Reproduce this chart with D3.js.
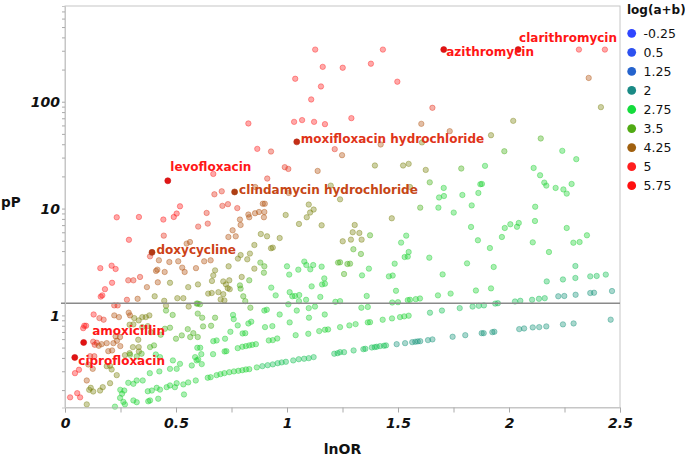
<!DOCTYPE html>
<html><head><meta charset="utf-8">
<script src="https://cdn.jsdelivr.net/npm/d3@7"></script>
<style>body{margin:0;background:#fff}svg{display:block;font-family:'DejaVu Sans',Verdana,sans-serif}</style>
</head><body><svg id="c" width="685" height="462"></svg>
<script>
// ---------- data ----------
const lnOR = [
1.127,1.432,2.315,2.432,
1.161,1.251,1.378,1.037,1.497,1.153,1.109,2.359,2.414,1.655,
1.290,0.826,1.032,1.068,1.122,1.171,1.605,2.019,1.733,1.919,
2.143,1.422,1.608,0.866,0.928,1.215,1.248,1.979,2.240,2.303,
0.990,1.006,1.138,1.396,1.523,1.548,1.625,1.785,1.892,2.111,
2.140,2.159,2.168,2.210,2.245,2.260,2.282,0.668,0.911,0.673,
0.706,1.008,0.857,1.197,1.643,1.706,1.707,1.685,1.790,1.862,
1.871,1.878,1.554,1.239,0.518,
1.832,2.118,2.117,1.981,2.006,2.044,2.036,2.260,1.600,1.682,
1.751,1.472,1.305,1.296,1.326,1.288,1.336,1.299,1.333,1.251,
1.374,1.537,1.514,1.548,1.544,1.530,1.485,1.829,1.860,1.914,
1.968,2.107,2.180,2.290,2.318,2.351,1.641,1.811,1.931,2.299,
1.701,1.459,1.476,1.369,1.338,1.257,1.239,1.272,1.284,2.170,
2.243,2.299,2.366,2.395,2.436,1.491,1.851,1.919,1.359,1.680,
1.737,2.222,2.249,2.300,2.366,2.383,2.464,1.474,1.500,1.544,
1.554,1.580,1.599,1.239,1.335,1.364,
1.239,1.281,1.309,1.364,1.374,1.431,1.473,1.509,1.528,1.548,
1.644,1.698,1.778,1.836,1.864,1.887,1.938,1.950,2.027,2.051,
2.104,2.135,2.161,1.239,1.257,1.300,1.344,1.353,1.382,1.395,
1.404,1.419,1.437,1.446,1.494,1.532,1.564,1.578,1.589,1.600,
1.635,1.655,1.746,1.803,1.877,1.886,1.925,1.934,2.046,2.068,
2.107,2.136,2.168,2.243,2.291,2.458,
0.709,0.734,0.776,0.638,0.643,0.600,0.891,0.900,0.826,0.830,
0.856,0.874,0.898,0.896,0.788,0.791,0.755,0.769,0.736,0.994,
1.054,1.098,1.104,1.120,1.089,1.156,0.882,0.910,0.967,0.853,
0.928,0.936,0.791,0.821,0.833,0.779,0.880,0.898,0.896,0.737,
1.000,1.010,1.051,1.078,1.087,1.118,1.105,1.156,1.230,1.168,
1.158,1.171,1.111,0.929,0.830,0.668,0.662,0.599,0.713,0.725,
0.740,0.733,0.742,0.791,0.645,0.661,0.691,0.701,0.713,0.718,
0.803,0.812,0.949,1.012,1.024,1.036,1.055,1.086,1.054,1.150,
1.006,0.608,0.598,0.835,0.898,0.909,0.967,1.012,1.044,1.098,
1.126,1.099,1.170,1.218,0.598,0.618,0.676,0.658,0.622,0.757,
0.760,0.778,0.826,0.839,0.901,0.934,0.745,0.721,0.683,0.668,
0.800,0.812,0.918,0.936,0.956,1.039,1.096,1.145,1.171,1.185,
0.598,0.609,0.596,0.614,0.600,0.616,0.667,0.719,0.727,0.778,
0.799,0.815,0.830,0.844,0.860,1.213,1.228,0.589,0.643,0.656,
0.683,0.700,0.718,0.740,0.761,0.781,0.799,0.815,0.830,0.864,
0.889,0.913,0.936,0.958,0.976,0.995,1.028,1.053,1.077,1.098,1.120,
0.503,0.490,0.233,0.333,0.443,0.288,0.445,0.383,0.548,0.563,
0.423,0.470,0.510,0.528,0.539,0.416,0.410,0.449,0.159,0.210,
0.228,0.212,0.180,0.161,0.168,0.285,0.308,0.338,0.369,0.418,
0.473,0.327,0.279,0.404,0.506,0.533,0.222,0.237,0.447,0.455,
0.557,0.593,0.590,0.627,0.656,0.676,0.796,0.788,0.853,0.555,
0.129,0.155,0.174,0.222,0.243,0.287,0.293,0.087,0.095,0.082,
0.127,0.143,0.134,0.165,0.188,0.152,0.218,0.195,0.212,0.228,
0.248,0.312,0.332,0.348,0.364,0.380,0.308,0.291,0.348,0.373,
0.387,0.450,0.473,0.485,0.455,0.431,0.330,0.306,0.291,0.332,
0.333,0.249,0.234,0.270,0.113,0.132,0.063,0.045,0.105,0.125,
0.188,0.203,0.210,0.233,0.203,0.098,0.116,0.109,0.127,0.158,
0.170,0.055,0.023,0.068,0.098,0.249,0.257,0.267,0.285,0.308,
0.323,0.350,0.293,0.323,0.345,0.383,0.401,0.409,0.428,0.382,
0.425,0.413,0.428,0.391,0.373,0.495,0.533,0.555,0.308,0.323,
0.375,0.383,0.248,0.263,0.486,0.518,0.473,0.503,0.586,0.593,
0.571,0.526,0.564,0.500,0.420,0.225,0.270,0.458,0.473,0.503,0.536,0.553,0.578
];
const pP = [
307.65,307.65,307.65,307.65,
212,208,227,164,154,139,105,167,89.0,87.7,
70.2,62.6,64.8,67.3,64.8,61.7,62.1,66.2,53.0,48.6,
45.3,39.8,41.6,36.2,34.2,36.0,31.6,34.4,34.7,29.0,
24.4,23.5,22.5,25.3,25.3,26.2,23.0,23.7,25.1,24.0,
20.5,17.5,16.4,15.6,15.1,13.8,17.0,21.1,19.1,13.6,
14.5,14.0,15.9,16.4,17.6,15.6,13.1,12.7,13.4,14.0,
16.9,17.0,15.9,12.2,10.5,
10.7,10.4,7.65,6.58,7.13,7.33,6.75,6.58,10.2,10.2,
9.17,8.11,7.02,6.00,5.91,5.12,5.12,4.16,3.76,4.94,
5.62,5.58,4.80,3.92,3.55,3.52,3.05,6.73,5.05,4.27,
5.42,4.83,3.92,4.79,4.86,5.62,3.47,3.07,2.84,2.90,
2.42,2.32,2.36,2.74,2.37,2.44,3.14,3.03,3.05,2.08,
2.17,2.24,2.32,2.34,2.41,1.70,1.71,1.79,1.52,1.54,
1.60,1.51,1.52,1.56,1.62,1.63,1.69,1.32,1.33,1.39,
1.40,1.42,1.44,1.36,1.18,1.20,
0.777,0.806,0.829,0.860,0.865,0.911,0.937,0.964,0.979,0.994,
1.06,1.11,1.17,1.21,1.23,1.24,1.29,1.30,1.35,1.37,
1.40,1.43,1.45,0.453,0.453,0.470,0.483,0.487,0.501,0.505,
0.509,0.516,0.520,0.524,0.538,0.550,0.562,0.567,0.571,0.574,
0.587,0.596,0.631,0.653,0.682,0.682,0.697,0.703,0.744,0.755,
0.772,0.777,0.789,0.824,0.841,0.912,
10.6,11.0,10.1,9.10,7.23,6.78,11.1,11.1,8.79,8.29,
9.04,9.29,9.29,8.29,7.89,7.02,6.26,5.50,5.42,8.71,
7.18,10.9,9.18,9.79,8.29,6.97,5.78,5.50,5.30,4.56,
4.25,4.31,3.67,3.35,3.79,3.40,3.12,2.88,2.51,2.88,
2.88,2.41,2.68,3.19,2.96,2.96,2.70,2.86,3.12,2.22,
1.95,1.98,1.87,1.82,2.13,2.37,2.10,1.95,2.08,1.95,
2.13,1.80,1.76,1.78,1.60,1.62,1.65,1.41,1.58,1.38,
1.51,1.36,1.54,1.65,1.51,1.52,1.55,1.40,1.36,1.49,
1.27,1.27,1.29,1.18,1.11,1.13,1.02,0.860,1.11,1.17,
1.21,0.952,1.02,1.34,1.04,0.952,0.952,0.800,0.789,1.01,
0.923,0.806,0.841,0.873,0.777,0.794,0.703,0.605,0.583,0.574,
0.678,0.682,0.583,0.587,0.608,0.653,0.673,0.713,0.734,0.739,
0.627,0.498,0.498,0.434,0.387,0.350,0.434,0.460,0.463,0.494,
0.509,0.516,0.524,0.531,0.538,0.438,0.443,0.246,0.261,0.264,
0.276,0.282,0.288,0.294,0.299,0.303,0.307,0.312,0.314,0.326,
0.335,0.342,0.348,0.357,0.363,0.368,0.379,0.389,0.393,0.398,0.407,
8.98,8.34,8.28,8.34,7.89,5.10,5.58,3.57,4.70,4.86,
3.28,3.16,3.21,2.80,2.55,2.68,2.61,2.55,2.77,2.92,
2.72,2.02,1.76,1.50,1.54,2.13,2.13,2.29,1.84,2.04,
2.02,1.43,1.40,1.51,1.45,1.45,1.24,1.24,1.37,1.23,
1.21,1.29,2.77,3.21,3.28,2.64,2.29,1.91,2.74,1.84,
1.02,0.944,0.912,1.00,0.964,1.06,1.00,0.800,0.800,0.760,
0.567,0.555,0.531,0.538,0.550,0.520,0.550,0.463,0.470,0.636,
0.627,0.944,0.898,0.964,0.964,1.00,0.824,0.818,0.777,0.794,
0.697,0.750,0.767,1.01,1.11,0.659,0.592,0.505,0.443,0.505,
0.460,0.516,0.579,0.425,0.415,0.415,0.310,0.288,0.347,0.316,
0.335,0.338,0.312,0.276,0.232,0.246,0.210,0.201,0.194,0.198,
0.213,0.187,0.171,0.171,0.147,0.201,0.185,0.198,0.234,0.229,
0.246,0.246,0.428,0.413,0.438,0.505,0.524,0.431,0.407,0.288,
0.299,0.210,0.202,0.198,0.195,0.213,0.226,0.236,0.160,0.154,
0.157,0.160,0.169,0.155,0.379,0.352,0.316,0.316,0.407,0.379,
0.340,0.650,0.627,0.605,0.166,0.140,0.147,0.213,0.221,0.232,0.182,0.744,0.682
];
const logAB = [
5.2,5.2,5.2,5.2,
5.2,5.2,5.2,5.2,5.2,5.2,5.2,4.4,3.9,4.8,
5.2,5.2,5.2,5.2,5.2,5.2,4.4,3.9,4.4,3.9,
3.4,4.4,3.9,5.2,4.8,4.8,4.4,3.4,2.9,2.9,
4.8,4.8,4.4,3.9,3.9,3.9,3.9,3.4,2.9,2.9,
2.9,2.9,2.9,2.9,2.9,2.9,2.9,5.2,4.8,4.8,
4.8,4.4,4.4,3.9,3.4,2.9,2.9,2.9,2.9,2.9,
2.9,2.9,3.9,3.9,5.2,
2.9,2.9,2.9,2.9,2.9,2.9,2.9,2.9,3.4,2.9,
2.9,3.9,3.9,3.9,3.9,3.9,3.9,3.4,3.4,3.9,
3.4,2.9,2.9,2.9,2.9,2.9,2.9,2.9,2.9,2.9,
2.9,2.9,2.9,2.9,2.9,2.9,2.9,2.9,2.9,2.5,
2.9,2.9,2.9,2.9,2.9,3.4,3.4,3.4,3.4,2.5,
2.5,2.5,2.5,2.5,2.5,2.9,2.9,2.9,2.9,2.9,
2.9,2.1,2.1,2.1,2.1,2.1,2.1,2.9,2.9,2.9,
2.9,2.9,2.9,2.9,2.9,2.9,
2.9,2.9,2.9,2.9,2.9,2.9,2.9,2.9,2.9,2.9,
2.5,2.5,2.5,2.5,2.5,2.5,2.5,2.5,2.5,2.5,
2.5,2.5,2.5,2.5,2.5,2.5,2.5,2.5,2.5,2.5,
2.5,2.5,2.5,2.5,2.1,2.1,2.1,2.1,2.1,2.1,
2.1,2.1,2.1,2.1,2.1,2.1,2.1,2.1,2.1,2.1,
2.1,2.1,2.1,2.1,2.1,2.1,
4.8,4.8,4.8,4.8,4.8,4.8,4.4,4.4,4.4,4.4,
4.4,4.4,4.4,4.4,4.4,4.4,4.4,4.4,4.4,3.9,
3.9,3.9,3.9,3.9,3.9,3.9,3.9,3.9,3.9,3.9,
3.9,3.9,3.9,3.9,3.9,3.9,3.4,3.4,3.4,3.9,
2.9,2.9,2.9,2.9,2.9,2.9,2.9,2.9,3.4,2.9,
2.9,2.9,2.9,2.9,3.4,3.9,3.9,3.9,3.9,3.9,
3.9,3.9,3.9,3.4,3.9,3.9,3.9,3.9,3.9,3.9,
3.4,3.4,2.9,2.9,2.9,2.9,2.9,2.9,2.9,2.9,
2.9,3.4,3.4,3.4,2.9,2.9,2.9,2.9,2.9,2.9,
2.9,2.9,2.9,2.9,3.4,3.4,3.4,3.4,3.4,2.9,
2.9,2.9,2.9,2.9,2.9,2.9,2.9,2.9,2.9,2.9,
2.9,2.9,2.9,2.9,2.9,2.9,2.9,2.9,2.9,2.9,
3.4,2.9,2.9,2.9,2.9,2.9,2.9,2.9,2.9,2.9,
2.9,2.9,2.9,2.9,2.9,2.5,2.5,2.9,2.9,2.9,
2.9,2.9,2.9,2.9,2.9,2.9,2.9,2.9,2.9,2.9,
2.5,2.5,2.5,2.5,2.5,2.5,2.5,2.5,2.5,2.5,2.5,
5.2,5.2,5.2,5.2,5.2,5.2,4.8,4.8,4.4,4.4,
4.4,4.4,4.4,4.4,4.4,4.4,4.4,4.4,5.2,5.2,
5.2,5.2,5.2,5.2,5.2,4.8,4.8,4.8,4.4,4.4,
3.9,4.4,4.8,3.9,3.9,3.9,4.8,4.8,3.9,3.9,
3.9,3.4,4.4,4.4,4.4,3.9,3.9,3.4,3.9,3.9,
5.2,4.8,4.8,4.4,4.4,4.4,4.4,5.2,5.2,5.2,
4.8,4.8,4.8,4.4,4.4,4.4,4.4,4.4,4.4,4.4,
4.4,3.9,3.9,3.9,3.9,3.9,3.9,3.9,3.9,3.9,
3.9,3.4,3.4,3.4,3.4,3.4,3.9,3.9,3.9,3.9,
3.9,4.4,4.4,3.9,4.8,4.8,5.2,5.2,4.4,4.4,
3.9,3.9,3.9,3.9,3.9,4.4,3.9,3.9,3.9,3.9,
3.9,5.2,5.2,5.2,3.9,2.9,2.9,2.9,2.9,2.9,
2.9,2.9,3.4,3.4,3.4,3.4,3.4,2.9,2.9,2.9,
2.9,2.9,2.9,2.9,2.9,2.9,2.9,2.9,2.9,2.9,
2.9,2.9,2.9,2.9,2.9,2.9,2.9,2.9,2.9,2.9,
2.9,3.4,3.4,3.4,2.9,2.9,2.9,2.9,2.9,2.9,2.9,3.4,3.4
];
const labelNames = ["azithromycin","clarithromycin","moxifloxacin hydrochloride","levofloxacin","clindamycin hydrochloride","doxycycline","amoxicillin","ciprofloxacin"];
const labelLnOR = [1.706, 2.041, 1.044, 0.463, 0.764, 0.392, 0.084, 0.044];
const labelPP = [307.65, 307.65, 42.1, 18.2, 14.3, 3.89, 0.558, 0.404];
const labelLogAB = [5.4, 5.4, 4.75, 5.3, 4.55, 4.6, 5.4, 5.4];
const legendValues = [-0.25, 0.5, 1.25, 2, 2.75, 3.5, 4.25, 5, 5.75];
const legendColors = ["#2f46ff","#2d51f0","#2563cd","#1a8a85","#14dc3c","#50aa14","#a0600f","#ff1e1e","#ff0f0f"];
const xTickValues = [0,0.25,0.5,0.75,1,1.25,1.5,1.75,2,2.25,2.5];
const yLabelValues = [1,10,100];
const thresholdPP = 1.301;

// ---------- layout / styling (not data) ----------
const labelDx = [2.5, 1, 4, 2.5, 4.5, 4.5, 8.5, 3.5];
const labelDy = [6.5, -8, 1.5, -10, 2, 1.5, -7, 8];
const L = 65, R = 620, T = 6, B = 407.5;

const svg = d3.select('#c');
svg.append('rect').attr('width',685).attr('height',462).attr('fill','#fff');
const x = d3.scaleLinear().domain([0, 2.5]).range([L, R]);
const y = d3.scaleLog().domain([0.1374, 787]).range([B, T]);
const color = d3.scaleLinear().domain(legendValues).range(legendColors).interpolate(d3.interpolateRgb).clamp(true);

// frame
svg.append('rect').attr('x',L).attr('y',T).attr('width',R-L).attr('height',B-T)
  .attr('fill','none').attr('stroke','#c6c6c6').attr('stroke-width',1);

// points
const n = Math.min(lnOR.length, pP.length, logAB.length);
const pts = d3.range(n).map(i => ({x: lnOR[i], y: pP[i], c: logAB[i]}));
svg.append('g').selectAll('circle').data(pts).join('circle')
  .attr('cx', d => x(d.x)).attr('cy', d => y(d.y)).attr('r', 2.7)
  .attr('fill', d => color(d.c)).attr('fill-opacity', 0.38)
  .attr('stroke', d => color(d.c)).attr('stroke-opacity', 0.45).attr('stroke-width', 0.9);

// threshold line
svg.append('line').attr('x1', L-4).attr('x2', R).attr('y1', y(thresholdPP)).attr('y2', y(thresholdPP))
  .attr('stroke','#8a8a8a').attr('stroke-width',1.5);

// axes
const xAxis = d3.axisBottom(x).tickValues(xTickValues).tickSize(5)
  .tickFormat(d => (Math.abs(d*2 - Math.round(d*2)) < 1e-9) ? d3.format('~g')(d) : '');
const gx = svg.append('g').attr('transform', `translate(0,${B})`).call(xAxis);
gx.select('.domain').attr('stroke','#c6c6c6');
gx.selectAll('.tick line').attr('stroke','#aaa');
gx.selectAll('.tick text').attr('y', 20.5).attr('dy', 0)
  .attr('font-size', 14).attr('font-weight','bold').attr('font-style','italic')
  .attr('font-family',"'DejaVu Sans',sans-serif").attr('fill','#111');

const yTicks = y.ticks().filter(v => v >= 0.1374 && v <= 787);
const yAxis = d3.axisLeft(y).tickValues(yTicks).tickSize(3)
  .tickFormat(d => yLabelValues.some(v => Math.abs(v - d) < 1e-9) ? d3.format('~g')(d) : '');
const gy = svg.append('g').attr('transform', `translate(${L},0)`).call(yAxis);
gy.select('.domain').attr('stroke','#c6c6c6');
gy.selectAll('.tick line').attr('stroke','#aaa');
gy.selectAll('.tick text').attr('x', -5).attr('dy', 5)
  .attr('font-size', 14).attr('font-weight','bold').attr('font-style','italic')
  .attr('font-family',"'DejaVu Sans',sans-serif").attr('fill','#111');

// axis titles
svg.append('text').attr('x', (L+R)/2).attr('y', 454).attr('text-anchor','middle')
  .attr('font-size',14).attr('font-weight','bold').attr('fill','#111').text('lnOR');
svg.append('text').attr('x', 1).attr('y', 207)
  .attr('font-size',13.5).attr('font-weight','bold').attr('fill','#111').text('pP');

// labelled points
const labs = labelNames.map((nm,i) => ({nm, x: labelLnOR[i], y: labelPP[i], c: labelLogAB[i], dx: labelDx[i], dy: labelDy[i]}));
svg.append('g').selectAll('circle').data(labs).join('circle')
  .attr('cx', d => x(d.x)).attr('cy', d => y(d.y)).attr('r', 3)
  .attr('fill', d => d3.color(color(d.c)).darker(0.35)).attr('stroke', d => d3.color(color(d.c)).darker(0.6)).attr('stroke-width',0.6);
svg.append('g').selectAll('text').data(labs).join('text')
  .attr('x', d => x(d.x) + d.dx).attr('y', d => y(d.y) + d.dy)
  .attr('font-size', 12).attr('font-weight','bold').attr('fill', d => color(d.c)).text(d => d.nm);

// legend
const lg = svg.append('g');
lg.append('text').attr('x', 627).attr('y', 14).attr('font-size', 12).attr('font-weight','bold').attr('fill','#111').text('log(a+b)');
legendValues.forEach((v,i) => {
  const cy = 33.3 + i*19.05;
  lg.append('circle').attr('cx', 631.7).attr('cy', cy).attr('r', 4.4).attr('fill', color(v));
  lg.append('text').attr('x', 643.5).attr('y', cy + 4.5).attr('font-size', 12.5).attr('fill','#111').text(String(v));
});
</script></body></html>
